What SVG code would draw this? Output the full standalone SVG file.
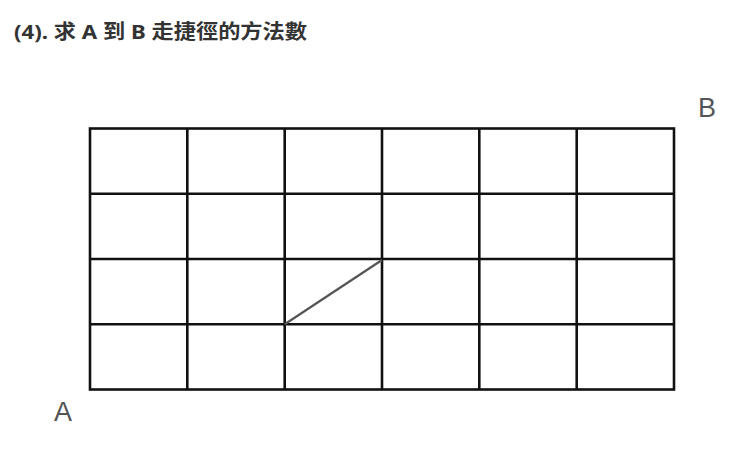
<svg xmlns="http://www.w3.org/2000/svg" width="740" height="468" viewBox="0 0 740 468">
<style>
.title{font-family:"Noto Sans","Noto Sans CJK TC",sans-serif;font-weight:bold;font-size:20px;fill:#333}
.lbl{font-family:"Liberation Sans","Noto Sans",sans-serif;font-size:27px;fill:#555}
.grid line,.grid rect{stroke:#111;stroke-width:2.6;fill:none}
.diag{stroke:#555;stroke-width:2.2}
</style>
<rect width="740" height="468" fill="#ffffff"/>
<text class="title" x="14" y="39" textLength="293" lengthAdjust="spacingAndGlyphs">(4). 求 A 到 B 走捷徑的方法數</text>
<g id="grid" class="grid">
<rect x="90" y="128.5" width="584" height="261"/>
<line x1="187.3" y1="128.5" x2="187.3" y2="389.5"/>
<line x1="284.7" y1="128.5" x2="284.7" y2="389.5"/>
<line x1="382" y1="128.5" x2="382" y2="389.5"/>
<line x1="479.3" y1="128.5" x2="479.3" y2="389.5"/>
<line x1="576.7" y1="128.5" x2="576.7" y2="389.5"/>
<line x1="90" y1="193.75" x2="674" y2="193.75"/>
<line x1="90" y1="259" x2="674" y2="259"/>
<line x1="90" y1="324.25" x2="674" y2="324.25"/>
</g>
<g id="connectors">
<line class="diag" x1="284.7" y1="324.25" x2="382" y2="260"/>
</g>
<g id="nodeA"><text class="lbl" x="54" y="421">A</text></g>
<g id="nodeB"><text class="lbl" x="698" y="117">B</text></g>
</svg>
